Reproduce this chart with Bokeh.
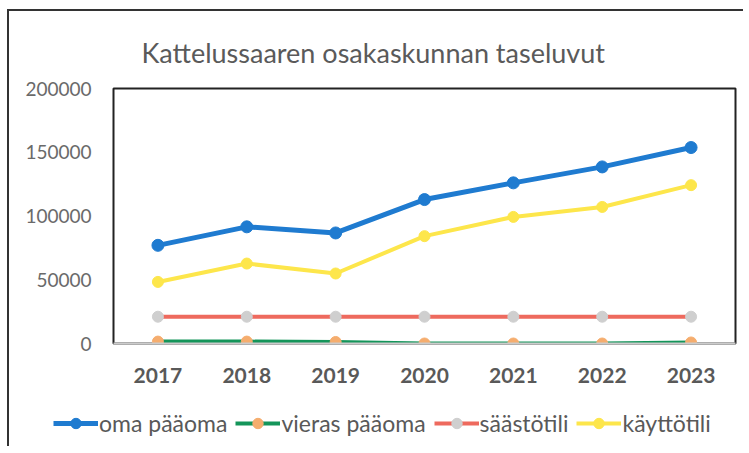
from bokeh.plotting import figure
from bokeh.models import (ColumnDataSource, Legend, LegendItem, FixedTicker,
                          NumeralTickFormatter, FactorRange, Range1d)
from bokeh.embed import file_html
from bokeh.resources import INLINE

years = ["2017", "2018", "2019", "2020", "2021", "2022", "2023"]
oma_paaoma = [77000, 91500, 86700, 112900, 126000, 138500, 153700]
vieras_paaoma = [1500, 1500, 1200, 0, 0, 0, 800]
saastotili = [21000, 21000, 21000, 21000, 21000, 21000, 21000]
kayttotili = [48300, 62700, 54900, 84200, 99300, 107100, 124200]
y_ticks = [0, 50000, 100000, 150000, 200000]

series = [
    ("oma pääoma", oma_paaoma, "#1f7bd0", "#1f7bd0", 5, 12),
    ("vieras pääoma", vieras_paaoma, "#14955a", "#f5ad6e", 4, 11),
    ("säästötili", saastotili, "#ee6a5e", "#cfcfcf", 4, 11),
    ("käyttötili", kayttotili, "#fde64b", "#fde64b", 4, 11),
]

FONT = "Lato"

p = figure(width=736, height=387, x_range=FactorRange(*years), y_range=(0, 200000),
           output_backend="svg", toolbar_location=None,
           min_border_left=104, min_border_right=10, min_border_top=77,
           min_border_bottom=55)
p.styles = {"margin-left": "7px", "margin-top": "9px",
            "border-left": "2px solid #333333", "border-top": "2px solid #333333"}

p.title.text = "Kattelussaaren osakaskunnan taseluvut"
p.title.align = "left"
p.title.offset = 28
p.title.text_font = FONT
p.title.text_font_style = "normal"
p.title.text_font_size = "27px"
p.title.text_color = "#5a5a5a"
p.title.standoff = 39

p.xgrid.grid_line_color = None
p.ygrid.grid_line_color = None
p.outline_line_color = "#222222"
p.outline_line_width = 2

p.yaxis.ticker = FixedTicker(ticks=y_ticks)
p.yaxis.formatter = NumeralTickFormatter(format="0")
p.yaxis.axis_line_color = None
p.yaxis.major_tick_line_color = None
p.yaxis.minor_tick_line_color = None
p.yaxis.major_label_text_font = FONT
p.yaxis.major_label_text_font_size = "19px"
p.yaxis.major_label_text_color = "#6a6a6a"
p.yaxis.major_label_standoff = 16

p.xaxis.axis_line_color = "#cccccc"
p.xaxis.axis_line_width = 2
p.xaxis.major_tick_line_color = None
p.xaxis.minor_tick_line_color = None
p.xaxis.major_label_text_font = FONT
p.xaxis.major_label_text_font_style = "bold"
p.xaxis.major_label_text_font_size = "21px"
p.xaxis.major_label_text_color = "#595959"
p.xaxis.major_label_standoff = 18

# legend strip below the chart: same series, drawn outside its visible range
lf = figure(width=736, height=50, x_range=FactorRange(*years),
            y_range=Range1d(-1000000, -900000),
            output_backend="svg", toolbar_location=None,
            x_axis_location=None, y_axis_location=None,
            min_border_left=0, min_border_right=0, min_border_top=0,
            min_border_bottom=0)
lf.styles = {"margin-left": "7px", "border-left": "2px solid #333333"}
lf.outline_line_color = None
lf.xgrid.grid_line_color = None
lf.ygrid.grid_line_color = None

items = []
for name, vals, lc, mc, lw, ms in series:
    src = ColumnDataSource(dict(x=years, y=vals))
    p.line("x", "y", source=src, line_color=lc, line_width=lw)
    p.scatter("x", "y", source=src, size=ms, fill_color=mc, line_color=mc)
    r1 = lf.line("x", "y", source=src, line_color=lc, line_width=lw)
    r2 = lf.scatter("x", "y", source=src, size=ms, fill_color=mc, line_color=mc)
    items.append(LegendItem(label=name, renderers=[r1, r2]))

legend = Legend(items=items, orientation="horizontal", location=(44, 9),
                label_text_font=FONT, label_text_font_size="23px",
                label_text_color="#595959", glyph_width=45, glyph_height=26,
                spacing=8, label_standoff=1, padding=0, margin=0,
                border_line_color=None, background_fill_alpha=0)
lf.add_layout(legend)

open("out.html", "w").write(file_html([p, lf], INLINE))
